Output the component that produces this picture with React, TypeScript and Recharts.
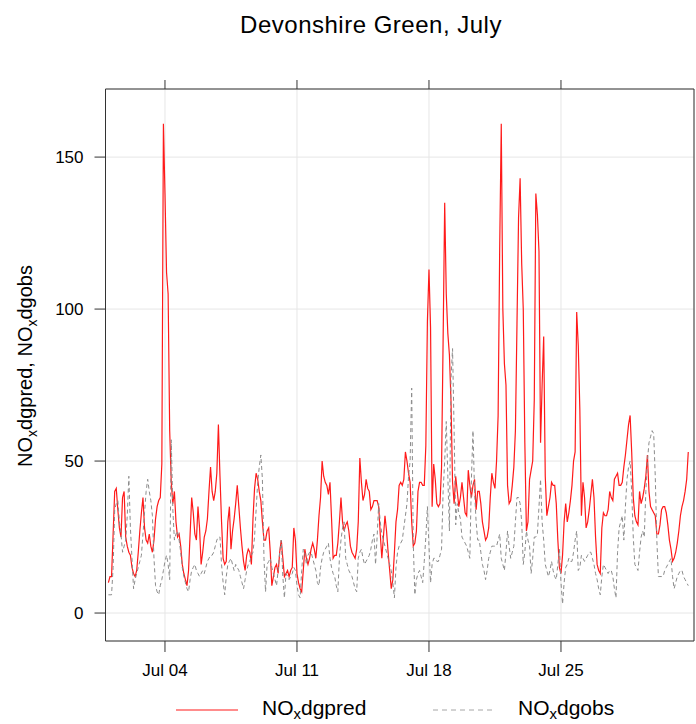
import { LineChart, Line, XAxis, YAxis, CartesianGrid } from "recharts";

// Two-hourly NOx values through July, starting Jul 01 00:00
const PRED = [
  10, 12, 12, 26, 40, 41, 34, 28, 25, 38, 40, 25,
  22, 20, 19, 15, 13, 12, 14, 20, 27, 33, 38, 28,
  24, 23, 26, 22, 20, 24, 31, 35, 37, 38, 49, 161,
  138, 112, 105, 60, 43, 36, 40, 30, 25, 26, 22, 16,
  13, 11, 9, 14, 26, 38, 33, 26, 24, 35, 28, 16,
  20, 25, 27, 31, 40, 48, 40, 37, 40, 46, 62, 45,
  30, 18, 16, 17, 30, 35, 21, 27, 31, 36, 42, 35,
  28, 22, 17, 14, 19, 21, 20, 16, 31, 41, 46, 44,
  40, 37, 30, 24, 24, 27, 28, 20, 9, 12, 15, 16,
  13, 20, 24, 18, 12, 13, 14, 12, 14, 15, 28, 24,
  13, 10, 8, 7, 14, 21, 18, 16, 18, 21, 23, 21,
  18, 24, 32, 38, 50, 45, 43, 42, 39, 43, 31, 18,
  19, 19, 23, 30, 38, 30, 27, 29, 30, 27, 22, 20,
  19, 18, 21, 30, 51, 43, 37, 39, 44, 41, 40, 34,
  35, 37, 37, 37, 35, 26, 18, 25, 32, 27, 20, 14,
  8, 11, 20, 30, 34, 42, 43, 42, 44, 53, 50, 46,
  43, 30, 22, 23, 27, 40, 43, 43, 42, 42, 55, 96,
  113, 94, 35, 49, 44, 36, 35, 36, 48, 90, 135, 105,
  92, 85, 70, 43, 36, 45, 40, 35, 38, 43, 38, 33,
  32, 47, 42, 38, 42, 44, 34, 40, 40, 36, 30, 27,
  24, 25, 28, 38, 46, 43, 41, 50, 65, 120, 161, 100,
  82, 75, 42, 36, 37, 42, 48, 60, 95, 130, 143, 115,
  100, 56, 27, 30, 44, 47, 50, 70, 138, 131, 119, 56,
  75, 91, 45, 32, 35, 38, 43, 42, 42, 36, 24, 15,
  13, 19, 30, 36, 30, 33, 37, 42, 50, 53, 99, 88,
  67, 32, 43, 38, 28, 30, 34, 39, 44, 38, 25, 16,
  14, 13, 28, 33, 32, 32, 34, 40, 38, 37, 44, 45,
  46, 42, 42, 43, 48, 52, 57, 62, 65, 53, 38, 32,
  30, 29, 40, 36, 38, 41, 45, 52, 40, 35, 34, 33,
  32, 26, 26, 29, 34, 35, 35, 33, 29, 24, 21, 17,
  18, 20, 23, 27, 32, 35, 37, 40, 44, 53,
];

const OBS = [
  6, 6, 6, 15, 34, 36, 37, 30, 26, 20, 22, 24,
  32, 45, 28, 18, 8, 11, 13, 15, 17, 19, 26, 33,
  40, 44, 40, 37, 32, 18, 9, 7, 6, 9, 11, 14,
  17, 19, 16, 11, 57, 34, 24, 26, 27, 24, 20, 15,
  12, 10, 8, 7, 11, 14, 15, 16, 14, 13, 12, 13,
  14, 13, 15, 17, 18, 19, 19, 20, 22, 24, 25, 25,
  16, 10, 6, 12, 16, 17, 18, 16, 14, 16, 15, 14,
  12, 10, 8, 11, 14, 16, 17, 19, 20, 25, 34, 43,
  48, 52, 44, 18, 7, 16, 17, 18, 15, 13, 11, 9,
  14, 20, 24, 12, 5, 13, 12, 11, 12, 13, 15, 14,
  9, 6, 5, 14, 21, 20, 16, 19, 20, 20, 18, 16,
  14, 10, 9, 15, 18, 20, 21, 22, 23, 18, 15, 13,
  12, 9, 7, 18, 24, 28, 30, 18, 16, 14, 13, 12,
  10, 8, 7, 18, 20, 21, 18, 16, 17, 18, 19, 21,
  24, 26, 16, 25, 36, 30, 26, 24, 22, 20, 18, 16,
  14, 10, 5, 15, 20, 22, 23, 24, 28, 32, 36, 45,
  50, 74, 23, 6, 11, 13, 14, 12, 10, 17, 25, 35,
  22, 10, 16, 18, 18, 17, 17, 19, 21, 40, 50, 63,
  45, 27, 77, 87, 60, 29, 36, 33, 31, 25, 24, 23,
  22, 20, 18, 44, 60, 40, 30, 24, 24, 20, 16, 14,
  11, 14, 18, 20, 22, 22, 22, 22, 24, 26, 18, 16,
  14, 20, 27, 22, 18, 20, 22, 30, 38, 38, 36, 30,
  16, 20, 27, 24, 22, 13, 18, 25, 25, 26, 35, 44,
  30, 24, 16, 14, 12, 14, 17, 14, 12, 11, 16, 21,
  10, 3, 10, 15, 16, 18, 17, 17, 20, 24, 27, 14,
  15, 19, 18, 17, 18, 19, 20, 20, 18, 16, 13, 11,
  8, 6, 12, 16, 15, 14, 13, 14, 14, 12, 8, 5,
  20, 28, 30, 32, 24, 35, 44, 48, 50, 40, 25, 16,
  15, 14, 20, 25, 27, 25, 40, 50, 56, 58, 60, 59,
  45, 24, 12, 12, 12, 12, 14, 15, 16, 17, 18, 12,
  8, 10, 12, 13, 14, 14, 12, 11, 10, 9,
];

const STEP_HOURS = 2;
const TICK_HOURS = [72, 240, 408, 576];
const TICK_LABELS = ["Jul 04", "Jul 11", "Jul 18", "Jul 25"];
const Y_TICKS = [0, 50, 100, 150];

const X_DOMAIN = [-3.7, 745.3];
const Y_DOMAIN = [-9.2, 172.4];

const FONT = '"Liberation Sans", Arial, sans-serif';
const BOX = "#333333";
const RED = "#ff1a1a";
const GREY = "#8c8c8c";

const data = PRED.map((pred, i) => ({ hour: i * STEP_HOURS, pred, obs: OBS[i] }));

const dateLabel = (v: number) => {
  const i = TICK_HOURS.indexOf(v);
  return i >= 0 ? TICK_LABELS[i] : "";
};

// "NO" with a subscript x, followed by the rest of the name
function NOx({ rest, size, sub, drop }: { rest: string; size: number; sub: number; drop: number }) {
  return (
    <>
      <tspan fontSize={size}>NO</tspan>
      <tspan fontSize={sub} dy={drop}>x</tspan>
      <tspan fontSize={size} dy={-drop}>{rest}</tspan>
    </>
  );
}

export default function App() {
  return (
    <div
      style={{
        position: "absolute",
        left: 0,
        top: 0,
        width: 696,
        height: 724,
        background: "#fff",
        fontFamily: FONT,
      }}
    >
      <LineChart
        width={696}
        height={724}
        data={data}
        margin={{ top: 69, right: 1, bottom: 43, left: 45.5 }}
        style={{ fontFamily: FONT }}
      >
        <CartesianGrid stroke="#e6e6e6" strokeWidth={1} />
        <XAxis
          dataKey="hour"
          type="number"
          domain={X_DOMAIN}
          allowDataOverflow
          ticks={TICK_HOURS}
          interval={0}
          tickFormatter={dateLabel}
          tickSize={11}
          tickMargin={12}
          height={40}
          stroke={BOX}
          tick={{ fill: "#000", fontSize: 17 }}
        />
        <XAxis
          xAxisId="top"
          orientation="top"
          dataKey="hour"
          type="number"
          domain={X_DOMAIN}
          allowDataOverflow
          ticks={TICK_HOURS}
          interval={0}
          tickFormatter={() => ""}
          tickSize={9}
          height={20}
          stroke={BOX}
        />
        <YAxis
          type="number"
          domain={Y_DOMAIN}
          allowDataOverflow
          ticks={Y_TICKS}
          interval={0}
          tickSize={11}
          tickMargin={11}
          width={60}
          stroke={BOX}
          tick={{ fill: "#000", fontSize: 17 }}
        />
        <YAxis
          yAxisId="right"
          orientation="right"
          type="number"
          domain={Y_DOMAIN}
          allowDataOverflow
          tick={false}
          tickLine={false}
          width={1}
          stroke={BOX}
        />
        <Line
          dataKey="pred"
          type="linear"
          stroke={RED}
          strokeWidth={1.2}
          dot={false}
          activeDot={false}
          isAnimationActive={false}
        />
        <Line
          dataKey="obs"
          type="linear"
          stroke={GREY}
          strokeWidth={1}
          strokeDasharray="4 3"
          dot={false}
          activeDot={false}
          isAnimationActive={false}
        />
      </LineChart>

      <svg
        width={696}
        height={724}
        style={{ position: "absolute", left: 0, top: 0, pointerEvents: "none", fontFamily: FONT }}
      >
        <text x={371} y={33} textAnchor="middle" fontSize={24} letterSpacing={0.5} fill="#000">
          Devonshire Green, July
        </text>

        <text x={32} y={366} textAnchor="middle" fill="#000" transform="rotate(-90, 32, 366)">
          <NOx rest="dgpred, " size={20} sub={14} drop={5} />
          <NOx rest="dgobs" size={20} sub={14} drop={5} />
        </text>

        <line x1={176} x2={238} y1={710} y2={710} stroke={RED} strokeWidth={1.2} />
        <text x={262} y={715} fill="#000">
          <NOx rest="dgpred" size={21} sub={15} drop={4} />
        </text>
        <line x1={433} x2={495} y1={710} y2={710} stroke="#a6a6a6" strokeWidth={1} strokeDasharray="5 4" />
        <text x={518} y={715} fill="#000">
          <NOx rest="dgobs" size={21} sub={15} drop={4} />
        </text>
      </svg>
    </div>
  );
}
